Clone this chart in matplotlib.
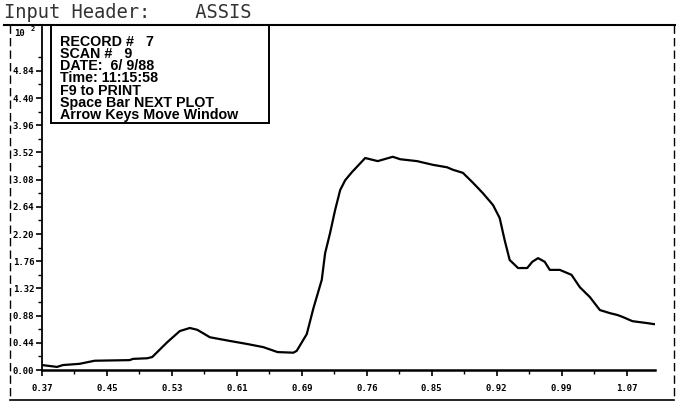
import numpy as np
import matplotlib.pyplot as plt
from matplotlib.lines import Line2D
from matplotlib.patches import Rectangle

# scan trace (y values are x10^2)
wavelength = [0.370, 0.388, 0.395, 0.415, 0.433, 0.475, 0.479, 0.496, 0.502, 0.520,
              0.535, 0.547, 0.556, 0.571, 0.583, 0.595, 0.616, 0.635, 0.652, 0.671,
              0.675, 0.687, 0.695, 0.705, 0.709, 0.715, 0.721, 0.727, 0.733, 0.741,
              0.757, 0.772, 0.790, 0.799, 0.819, 0.838, 0.855, 0.862, 0.874, 0.886,
              0.898, 0.910, 0.918, 0.924, 0.930, 0.940, 0.951, 0.957, 0.964, 0.972,
              0.978, 0.990, 1.004, 1.014, 1.026, 1.038, 1.050, 1.059, 1.065, 1.077,
              1.094, 1.104]
signal = [0.08, 0.05, 0.08, 0.10, 0.15, 0.16, 0.18, 0.19, 0.21, 0.45,
          0.63, 0.68, 0.65, 0.53, 0.50, 0.47, 0.42, 0.37, 0.29, 0.28,
          0.31, 0.58, 1.00, 1.46, 1.89, 2.22, 2.59, 2.91, 3.07, 3.20,
          3.43, 3.38, 3.45, 3.41, 3.38, 3.32, 3.28, 3.24, 3.19, 3.03,
          2.86, 2.67, 2.46, 2.10, 1.78, 1.65, 1.65, 1.75, 1.81, 1.75,
          1.62, 1.62, 1.54, 1.34, 1.18, 0.97, 0.92, 0.89, 0.86, 0.79,
          0.76, 0.74]

x_labels = ["0.37", "0.45", "0.53", "0.61", "0.69", "0.76", "0.85", "0.92", "0.99", "1.07"]
y_labels = ["0.00", "0.44", "0.88", "1.32", "1.76", "2.20", "2.64", "3.08", "3.52",
            "3.96", "4.40", "4.84"]

info_lines = ["RECORD #   7", "SCAN #   9", "DATE:  6/ 9/88", "Time: 11:15:58",
              "F9 to PRINT", "Space Bar NEXT PLOT", "Arrow Keys Move Window"]

W, H = 679, 408
fig = plt.figure(figsize=(W / 100, H / 100), dpi=100)

def fx(px):
    return px / W

def fy(py):
    return 1 - py / H

ax = fig.add_axes([fx(42), fy(370), fx(655) - fx(42), fy(27) - fy(370)])
ax.plot(wavelength, signal, color="black", lw=1.6)

x_ticks = np.linspace(0.37, 1.07, len(x_labels))
step = x_ticks[1] - x_ticks[0]
ax.set_xlim(0.37, 1.104)
ax.set_ylim(0, 5.55)
ax.set_xticks(x_ticks)
ax.set_xticklabels(x_labels)
ax.set_xticks(x_ticks[:-1] + step / 2, minor=True)
y_ticks = [float(v) for v in y_labels]
ax.set_yticks(y_ticks)
ax.set_yticklabels(y_labels)
ax.set_yticks(np.array(y_ticks) + 0.22, minor=True)

for s in ["top", "right"]:
    ax.spines[s].set_visible(False)
ax.spines["left"].set_linewidth(1.3)
ax.spines["bottom"].set_linewidth(1.8)
ax.tick_params(which="major", direction="out", length=4, width=1.2,
               labelsize=6.5, pad=1.5)
ax.tick_params(axis="x", which="major", pad=6)
ax.tick_params(which="minor", direction="out", length=3, width=1)
for lab in ax.get_xticklabels() + ax.get_yticklabels():
    lab.set_family("DejaVu Sans Mono")
    lab.set_weight("bold")

# multiplier in the corner
fig.text(fx(14), fy(33), "10", fontsize=6.5, family="DejaVu Sans Mono",
         weight="bold", va="center")
fig.text(fx(31), fy(29), "2", fontsize=5, family="DejaVu Sans Mono",
         weight="bold", va="center")

# outer frame
fig.add_artist(Line2D([fx(4), fx(675)], [fy(25), fy(25)], color="black", lw=1.5))
fig.add_artist(Line2D([fx(10), fx(674)], [fy(400), fy(400)], color="black", lw=1.2))
fig.add_artist(Line2D([fx(10), fx(10)], [fy(25), fy(400)], color="black", lw=1,
                      ls=(0, (6, 3))))
fig.add_artist(Line2D([fx(674), fx(674)], [fy(25), fy(400)], color="black", lw=1,
                      ls=(0, (6, 3))))

fig.text(fx(4), fy(13), "Input Header:    ASSIS", fontsize=13.5,
         family="DejaVu Sans Mono", va="center", color="#333333")

# info window
fig.add_artist(Rectangle((fx(51), fy(123)), fx(269) - fx(51), fy(25) - fy(123),
                         fill=True, facecolor="white", edgecolor="black", lw=1.4))
fig.text(fx(60), fy(35), "\n".join(info_lines), fontsize=10.3,
         family=["Liberation Sans", "DejaVu Sans"], weight="bold",
         va="top", ha="left", linespacing=0.83)

fig.savefig("out.png", dpi=100)
